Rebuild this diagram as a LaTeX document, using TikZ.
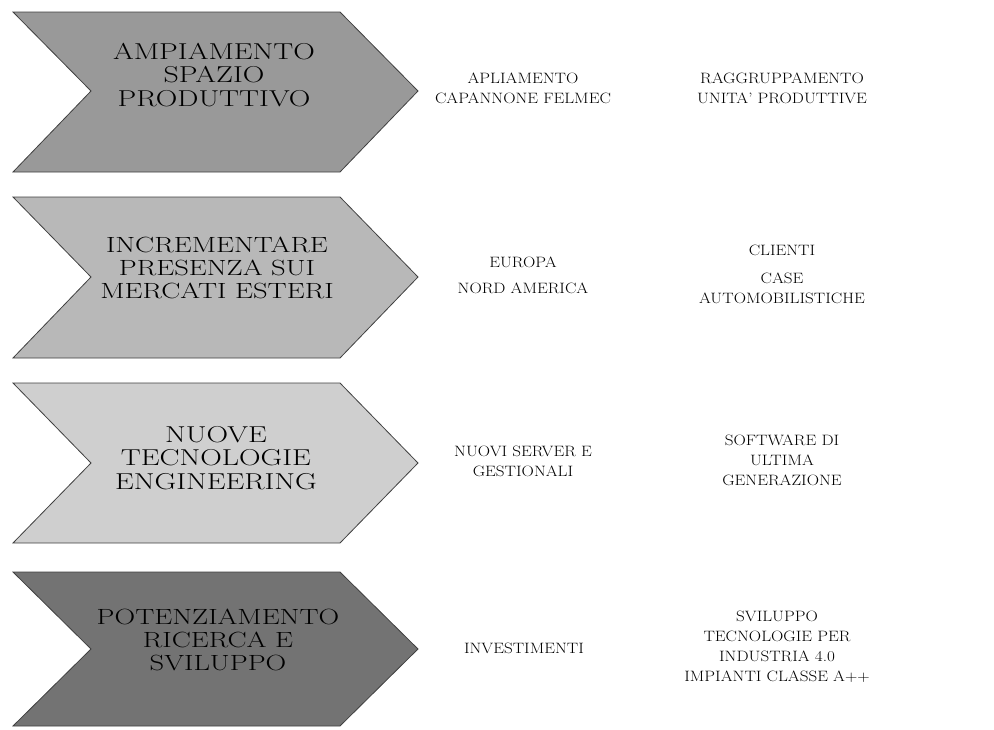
\documentclass[tikz,border=0pt]{standalone}
\usepackage{fontspec}
\setmainfont{Latin Modern Roman}[FakeStretch=1.14]
\usepackage{tikz}
\usetikzlibrary{positioning}
\definecolor{chevrongrayA}{gray}{0.60}
\definecolor{chevrongrayB}{gray}{0.72}
\definecolor{chevrongrayC}{gray}{0.81}
\definecolor{chevrongrayD}{gray}{0.45}

\begin{document}
\begin{tikzpicture}[x=1pt,y=-1pt,
  chevron/.style={draw=black!75,line width=0.8pt,line join=miter},
  goaltext/.style={align=center,inner sep=0pt,
    font=\fontsize{22}{23}\selectfont\addfontfeature{FakeStretch=1.3}},
  biggoal/.style={goaltext,
    font=\fontsize{23}{23.5}\selectfont\addfontfeature{FakeStretch=1.3}},
  actiontext/.style={align=center,inner sep=0pt,font=\fontsize{15}{20}\selectfont}]
 \useasboundingbox (0,0) rectangle (994,729);
 % chevrons
 \filldraw[chevron,fill=chevrongrayA] (13,12)--(340,12)--(418,91)--(340,172)--(13,172)--(91,91)--cycle;
 \filldraw[chevron,fill=chevrongrayB] (13,197)--(340,197)--(418,277)--(340,358)--(13,358)--(91,277)--cycle;
 \filldraw[chevron,fill=chevrongrayC] (13,383)--(340,383)--(418,463)--(340,543)--(13,543)--(91,463)--cycle;
 \filldraw[chevron,fill=chevrongrayD] (13,572)--(340,572)--(418,649)--(340,726)--(13,726)--(91,649)--cycle;
 % goals
 \node[biggoal] (goal1) at (214,75) {AMPIAMENTO\\SPAZIO\\PRODUTTIVO};
 \node[goaltext] (goal2) at (217,268) {INCREMENTARE\\PRESENZA SUI\\MERCATI ESTERI};
 \node[biggoal] (goal3) at (216,458) {NUOVE\\TECNOLOGIE\\ENGINEERING};
 \node[goaltext] (goal4) at (218,640) {POTENZIAMENTO\\RICERCA E\\SVILUPPO};
 % actions
 \node[actiontext] (act1) at (523,88) {APLIAMENTO\\CAPANNONE FELMEC};
 \node[actiontext] (act2) at (523,275) {EUROPA\\[6pt]NORD AMERICA};
 \node[actiontext] (act3) at (523,461) {NUOVI SERVER E\\GESTIONALI};
 \node[actiontext] (act4) at (524,648) {INVESTIMENTI};
 % results
 \node[actiontext] (res1) at (782,88) {RAGGRUPPAMENTO\\UNITA’ PRODUTTIVE};
 \node[actiontext] (res2) at (782,274) {CLIENTI\\[8pt]CASE\\AUTOMOBILISTICHE};
 \node[actiontext] (res3) at (782,460) {SOFTWARE DI\\ULTIMA\\GENERAZIONE};
 \node[actiontext] (res4) at (777,647) {SVILUPPO\\TECNOLOGIE PER\\INDUSTRIA 4.0\\IMPIANTI CLASSE A++};
\end{tikzpicture}
\end{document}
